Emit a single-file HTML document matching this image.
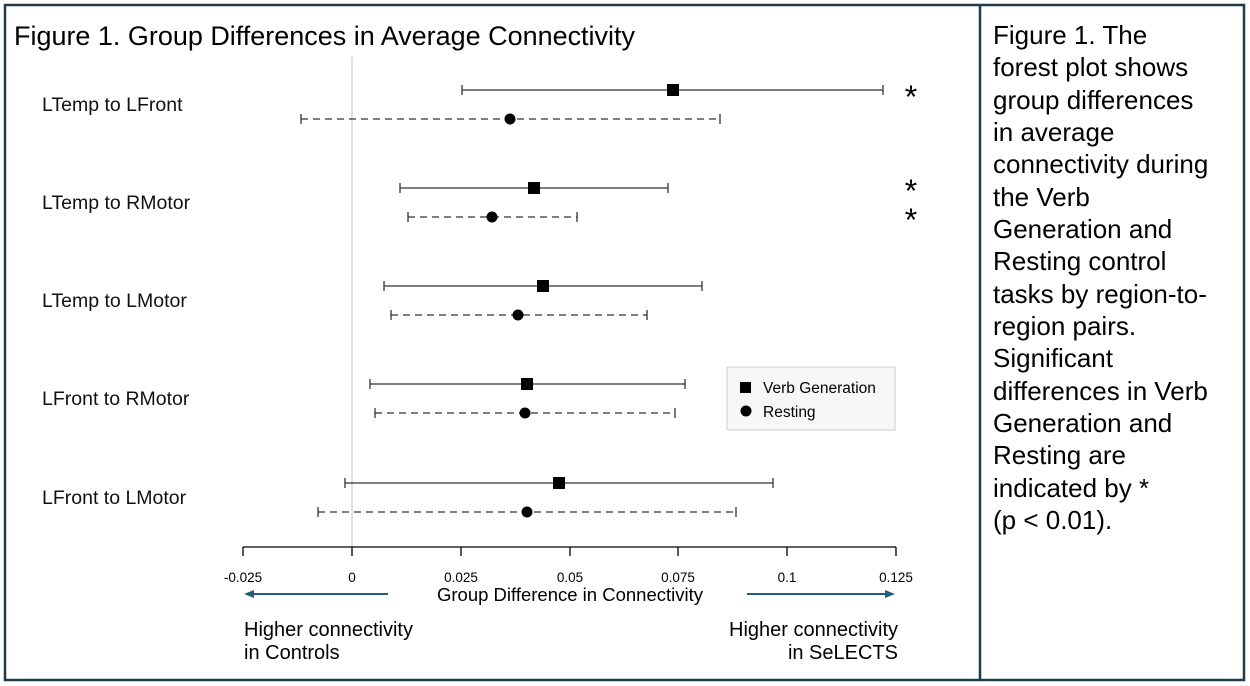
<!DOCTYPE html>
<html><head><style>
body{margin:0;background:#fff;}
svg{display:block;font-family:"Liberation Sans",sans-serif;}
</style></head><body>
<svg width="1250" height="686" viewBox="0 0 1250 686">
<rect x="5" y="5" width="1239" height="675" fill="#fff" stroke="#1f3a4d" stroke-width="2.5"/>
<line x1="980" y1="5" x2="980" y2="680" stroke="#1f3a4d" stroke-width="2.5"/>
<text x="14" y="45" font-size="26.5" fill="#000" textLength="621" lengthAdjust="spacingAndGlyphs">Figure 1. Group Differences in Average Connectivity</text>
<line x1="352" y1="57" x2="352" y2="547" stroke="#ccc" stroke-width="1.2"/>
<g font-size="19.5" fill="#111">
<text x="42" y="111">LTemp to LFront</text>
<text x="42" y="209">LTemp to RMotor</text>
<text x="42" y="307">LTemp to LMotor</text>
<text x="42" y="405">LFront to RMotor</text>
<text x="42" y="504">LFront to LMotor</text>
</g>
<g stroke="#333" stroke-width="1.3" fill="none">
<path d="M462 90H883M462 85v10M883 85v10"/>
<path d="M400 188H668M400 183v10M668 183v10"/>
<path d="M384 286H702M384 281v10M702 281v10"/>
<path d="M370 384H685M370 379v10M685 379v10"/>
<path d="M345 483H773M345 478v10M773 478v10"/>
<g stroke-dasharray="7,5">
<path d="M301 119H720"/><path d="M408 217H577"/><path d="M391 315H647"/><path d="M375 413H675"/><path d="M318 512H736"/>
</g>
<path d="M301 114v10M720 114v10M408 212v10M577 212v10M391 310v10M647 310v10M375 408v10M675 408v10M318 507v10M736 507v10"/>
</g>
<g fill="#000">
<rect x="667" y="84" width="12" height="12"/><rect x="528" y="182" width="12" height="12"/><rect x="537" y="280" width="12" height="12"/><rect x="521" y="378" width="12" height="12"/><rect x="553" y="477" width="12" height="12"/>
<circle cx="510" cy="119" r="5.5"/><circle cx="492" cy="217" r="5.5"/><circle cx="518" cy="315" r="5.5"/><circle cx="525" cy="413" r="5.5"/><circle cx="527" cy="512" r="5.5"/>
</g>
<g font-size="32" fill="#000" text-anchor="middle">
<text x="911" y="108">*</text><text x="911" y="202">*</text><text x="911" y="231">*</text>
</g>
<rect x="727" y="367" width="168" height="63" fill="#f7f7f7" stroke="#ccc"/>
<rect x="740" y="382" width="11" height="11" fill="#000"/>
<circle cx="746" cy="411" r="5.5" fill="#000"/>
<text x="763" y="393" font-size="15.5">Verb Generation</text>
<text x="763" y="417" font-size="15.5">Resting</text>
<g stroke="#000" stroke-width="1.3">
<path d="M243 547H896M243 547v9M352 547v9M461 547v9M570 547v9M678 547v9M787 547v9M896 547v9"/>
</g>
<g font-size="13.5" text-anchor="middle" fill="#000">
<text x="243" y="582">-0.025</text><text x="352" y="582">0</text><text x="461" y="582">0.025</text><text x="570" y="582">0.05</text><text x="678" y="582">0.075</text><text x="787" y="582">0.1</text><text x="896" y="582">0.125</text>
</g>
<text x="570" y="601" font-size="18.5" text-anchor="middle">Group Difference in Connectivity</text>
<g stroke="#1e5f7e" stroke-width="2" fill="#1e5f7e">
<path d="M388 594H252"/><path d="M244 594l10-4v8z" stroke="none"/>
<path d="M747 594H886"/><path d="M895 594l-10-4v8z" stroke="none"/>
</g>
<g font-size="20" fill="#000">
<text x="244" y="636">Higher connectivity</text><text x="244" y="659">in Controls</text>
<text x="898" y="636" text-anchor="end">Higher connectivity</text><text x="898" y="659" text-anchor="end">in SeLECTS</text>
</g>
<g font-size="26" fill="#000">
<text x="993" y="44">Figure 1. The</text>
<text x="993" y="76">forest plot shows</text>
<text x="993" y="109">group differences</text>
<text x="993" y="141">in average</text>
<text x="993" y="173">connectivity during</text>
<text x="993" y="206">the Verb</text>
<text x="993" y="238">Generation and</text>
<text x="993" y="270">Resting control</text>
<text x="993" y="303">tasks by region-to-</text>
<text x="993" y="335">region pairs.</text>
<text x="993" y="367">Significant</text>
<text x="993" y="400">differences in Verb</text>
<text x="993" y="432">Generation and</text>
<text x="993" y="464">Resting are</text>
<text x="993" y="497">indicated by *</text>
<text x="993" y="529">(p &lt; 0.01).</text>
</g>
</svg>
</body></html>
